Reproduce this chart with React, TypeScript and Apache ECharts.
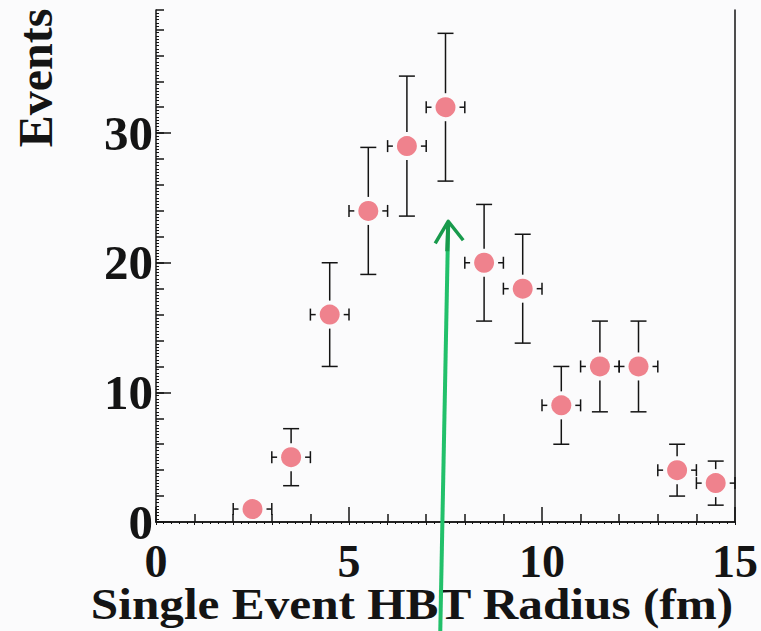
import React, { useEffect, useRef } from "react";
import * as echarts from "echarts";

// Histogram of single-event HBT radii: bin centres (fm), counts and errors
const radius = [2.5, 3.5, 4.5, 5.5, 6.5, 7.5, 8.5, 9.5, 10.5, 11.5, 12.5, 13.5, 14.5];
const events = [1, 5, 16, 24, 29, 32, 20, 18, 9, 12, 12, 4, 3];
const eventErrors = [1.0, 2.2, 4.0, 4.9, 5.4, 5.7, 4.5, 4.2, 3.0, 3.5, 3.5, 2.0, 1.7];
const binHalfWidth = [0.5, 0.5, 0.5, 0.5, 0.5, 0.5, 0.5, 0.5, 0.5, 0.5, 0.5, 0.5, 0.5];

const xTickLabels = ["0", "5", "10", "15"];
const yTickLabels = ["0", "10", "20", "30"];

// Hand-drawn marker arrow (data units): from below the axis up to the tip
const arrowFromRadius = 7.36;
const arrowToRadius = 7.57;
const arrowTipEvents = 23.2;

const X_MAX = 15;
const Y_MAX = 39.5;

const SERIF = "'Liberation Serif', 'Times New Roman', serif";
const INK = "#141414";
const MARKER = "#ec6470";

export default function App() {
  const ref = useRef<HTMLDivElement | null>(null);

  useEffect(() => {
    if (!ref.current) return;
    const chart = echarts.init(ref.current, null, { renderer: "svg" });

    const rows = radius.map((r, i) => [r, events[i], eventErrors[i], binHalfWidth[i]]);

    const errorBars = (params: any, api: any) => {
      const x = api.value(0);
      const y = api.value(1);
      const ey = api.value(2);
      const ex = api.value(3);
      const c = api.coord([x, y]);
      const top = api.coord([x, y + ey]);
      const bot = api.coord([x, Math.max(y - ey, 0)]);
      const left = api.coord([x - ex, y]);
      const right = api.coord([Math.min(x + ex, X_MAX), y]);
      const gap = 14;
      const capV = 8;
      const capH = 6;
      const style = { stroke: INK, lineWidth: 1.5 };
      const children: any[] = [];
      const seg = (x1: number, y1: number, x2: number, y2: number) =>
        children.push({ type: "line", shape: { x1, y1, x2, y2 }, style });
      if (c[1] - gap > top[1]) {
        seg(c[0], top[1], c[0], c[1] - gap);
        seg(c[0] - capV, top[1], c[0] + capV, top[1]);
      }
      if (c[1] + gap < bot[1]) {
        seg(c[0], c[1] + gap, c[0], bot[1]);
        seg(c[0] - capV, bot[1], c[0] + capV, bot[1]);
      }
      if (c[0] - gap > left[0]) {
        seg(left[0], c[1], c[0] - gap, c[1]);
        seg(left[0], c[1] - capH, left[0], c[1] + capH);
      }
      if (c[0] + gap < right[0]) {
        seg(c[0] + gap, c[1], right[0], c[1]);
        seg(right[0], c[1] - capH, right[0], c[1] + capH);
      }
      return { type: "group", children };
    };

    const labelStyle = {
      fontFamily: SERIF,
      fontWeight: "bold" as const,
      color: INK,
    };

    chart.setOption({
      animation: false,
      backgroundColor: "#fbfbfc",
      grid: { left: 156, right: 25, top: 10, bottom: 109, containLabel: false },
      xAxis: [
        {
          type: "value",
          position: "bottom",
          min: 0,
          max: X_MAX,
          interval: 5,
          splitLine: { show: false },
          axisLine: { show: true, lineStyle: { color: INK, width: 1.5 } },
          axisTick: { show: true, inside: true, length: 15, lineStyle: { color: INK, width: 1.5 } },
          minorTick: { show: true, splitNumber: 5, length: 8, lineStyle: { color: INK, width: 1.5 } },
          axisLabel: {
            ...labelStyle,
            fontSize: 46,
            lineHeight: 32,
            margin: 23,
            formatter: (v: number) => {
              const s = String(Math.round(v));
              return xTickLabels.includes(s) && Math.abs(v - Math.round(v)) < 1e-6 ? s : "";
            },
          },
        },
        {
          type: "value",
          position: "top",
          min: 0,
          max: X_MAX,
          interval: 1,
          splitLine: { show: false },
          axisLine: { show: true, lineStyle: { color: INK, width: 1.5 } },
          axisTick: { show: true, inside: true, length: 3, lineStyle: { color: INK, width: 1 } },
          minorTick: { show: true, splitNumber: 5, length: 2, lineStyle: { color: INK, width: 1 } },
          axisLabel: { show: false },
        },
      ],
      yAxis: [
        {
          type: "value",
          position: "left",
          min: 0,
          max: Y_MAX,
          interval: 10,
          splitLine: { show: false },
          axisLine: { show: true, lineStyle: { color: INK, width: 1.5 } },
          axisTick: { show: true, inside: true, length: 15, lineStyle: { color: INK, width: 1.5 } },
          axisLabel: {
            ...labelStyle,
            fontSize: 49,
            lineHeight: 34,
            margin: 3,
            showMaxLabel: false,
            formatter: (v: number) => {
              const s = String(Math.round(v));
              return yTickLabels.includes(s) && Math.abs(v - Math.round(v)) < 1e-6 ? s : "";
            },
          },
        },
        {
          type: "value",
          position: "left",
          min: 0,
          max: Y_MAX,
          interval: 2,
          splitLine: { show: false },
          axisLine: { show: false },
          axisTick: { show: true, inside: true, length: 8, lineStyle: { color: INK, width: 1.5 } },
          minorTick: { show: true, splitNumber: 8, length: 3, lineStyle: { color: INK, width: 1 } },
          axisLabel: { show: false },
        },
        {
          type: "value",
          position: "right",
          min: 0,
          max: Y_MAX,
          splitLine: { show: false },
          axisLine: { show: true, lineStyle: { color: INK, width: 1.5 } },
          axisTick: { show: false },
          axisLabel: { show: false },
        },
      ],
      series: [
        {
          type: "custom",
          xAxisIndex: 0,
          yAxisIndex: 0,
          renderItem: errorBars,
          data: rows,
          z: 2,
        },
        {
          type: "scatter",
          xAxisIndex: 0,
          yAxisIndex: 0,
          symbol: "circle",
          symbolSize: 20,
          itemStyle: { color: MARKER },
          data: radius.map((r, i) => [r, events[i]]),
          z: 3,
        },
      ],
    });

    const tip = chart.convertToPixel({ gridIndex: 0 }, [arrowToRadius, arrowTipEvents]) as number[];
    const base = chart.convertToPixel({ gridIndex: 0 }, [arrowFromRadius, 0]) as number[];
    const green = "#22c06a";
    const darkGreen = "#189a4c";

    chart.setOption({
      graphic: [
        {
          type: "text",
          x: 35,
          y: 78,
          rotation: Math.PI / 2,
          style: {
            text: "Events",
            font: `bold 48px ${SERIF}`,
            fill: INK,
            align: "center",
            verticalAlign: "middle",
          },
        },
        {
          type: "text",
          x: 412,
          y: 604,
          scaleX: 1.12,
          style: {
            text: "Single Event HBT Radius (fm)",
            font: `bold 44px ${SERIF}`,
            lineHeight: 34,
            fill: INK,
            align: "center",
            verticalAlign: "middle",
          },
        },
        {
          type: "line",
          z: 10,
          shape: { x1: base[0], y1: 640, x2: tip[0], y2: tip[1] + 2 },
          style: { stroke: green, lineWidth: 4 },
        },
        {
          type: "line",
          z: 11,
          shape: { x1: tip[0] - 1, y1: tip[1] + 30, x2: tip[0], y2: tip[1] + 2 },
          style: { stroke: darkGreen, lineWidth: 4 },
        },
        {
          type: "polyline",
          z: 11,
          shape: {
            points: [
              [tip[0] - 13, tip[1] + 22],
              [tip[0], tip[1]],
              [tip[0] + 15, tip[1] + 19],
            ],
          },
          style: { stroke: darkGreen, lineWidth: 3.5, fill: "none", lineJoin: "round" },
        },
      ],
    });

    return () => chart.dispose();
  }, []);

  return (
    <div
      ref={ref}
      style={{ position: "fixed", left: 0, top: 0, width: 761, height: 631 }}
    />
  );
}
